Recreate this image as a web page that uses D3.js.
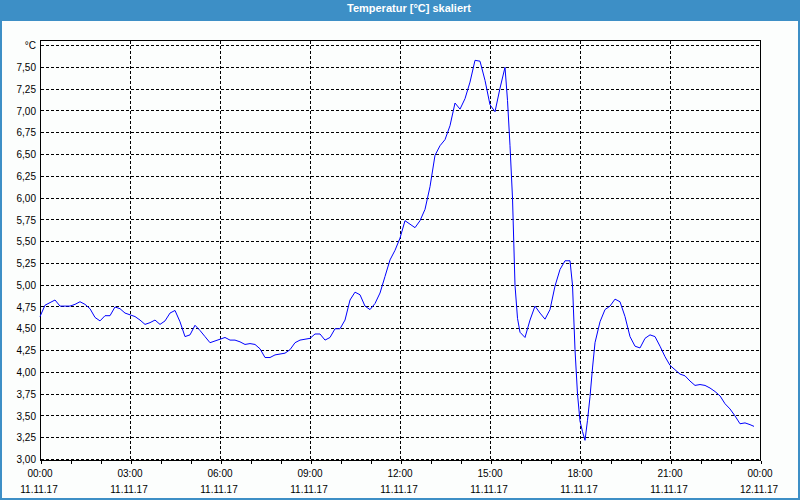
<!DOCTYPE html>
<html><head><meta charset="utf-8">
<script src="https://cdn.jsdelivr.net/npm/d3@7"></script>
<style>html,body{margin:0;padding:0;background:#fcfefd;} svg{display:block;}</style>
</head><body><svg id="c" width="800" height="500"></svg>
<script>
// minutes since 11.11.17 00:00
const minutes = [0,10,20,30,40,50,60,70,80,90,100,110,120,130,140,150,160,170,180,190,200,210,220,230,240,250,260,270,280,290,300,310,320,330,340,350,360,370,380,390,400,410,420,430,440,450,460,470,480,490,500,510,520,530,540,550,560,570,580,590,600,610,620,630,640,650,660,670,680,690,700,710,720,730,740,750,760,770,780,790,800,810,820,830,840,850,860,870,880,890,900,910,920,930,935,940,945,950,955,960,970,980,990,1000,1010,1020,1030,1040,1050,1060,1065,1070,1075,1080,1085,1090,1095,1100,1105,1110,1120,1130,1140,1150,1160,1170,1180,1190,1200,1210,1220,1230,1240,1250,1260,1270,1280,1290,1300,1310,1320,1330,1340,1350,1360,1370,1380,1390,1400,1410,1420,1428];
const temps = [4.64,4.77,4.80,4.83,4.76,4.76,4.76,4.78,4.81,4.78,4.73,4.63,4.59,4.65,4.65,4.75,4.73,4.68,4.66,4.64,4.60,4.55,4.57,4.60,4.55,4.59,4.68,4.71,4.58,4.41,4.43,4.54,4.48,4.41,4.34,4.36,4.38,4.40,4.37,4.37,4.35,4.32,4.33,4.32,4.27,4.17,4.17,4.20,4.21,4.22,4.26,4.34,4.37,4.38,4.39,4.44,4.44,4.37,4.40,4.50,4.50,4.60,4.83,4.92,4.89,4.76,4.72,4.79,4.91,5.10,5.29,5.40,5.54,5.74,5.70,5.66,5.74,5.87,6.13,6.49,6.60,6.67,6.83,7.09,7.02,7.14,7.33,7.58,7.57,7.35,7.07,6.99,7.26,7.50,7.12,6.60,6.00,5.00,4.62,4.46,4.40,4.60,4.76,4.68,4.61,4.72,4.99,5.18,5.28,5.28,5.00,4.26,3.75,3.44,3.32,3.22,3.45,3.72,4.05,4.34,4.58,4.72,4.76,4.84,4.81,4.64,4.41,4.30,4.28,4.39,4.43,4.41,4.30,4.18,4.08,4.03,3.98,3.96,3.90,3.85,3.86,3.85,3.82,3.78,3.73,3.64,3.58,3.50,3.41,3.42,3.40,3.38];

const yTicks = [3.00,3.25,3.50,3.75,4.00,4.25,4.50,4.75,5.00,5.25,5.50,5.75,6.00,6.25,6.50,6.75,7.00,7.25,7.50,7.75];
const yTickLabels = ["3,00","3,25","3,50","3,75","4,00","4,25","4,50","4,75","5,00","5,25","5,50","5,75","6,00","6,25","6,50","6,75","7,00","7,25","7,50","°C"];
const xTickHours = [0,3,6,9,12,15,18,21,24];
const xTickTimes = ["00:00","03:00","06:00","09:00","12:00","15:00","18:00","21:00","00:00"];
const xTickDates = ["11.11.17","11.11.17","11.11.17","11.11.17","11.11.17","11.11.17","11.11.17","11.11.17","12.11.17"];
const title = "Temperatur [°C] skaliert";

const W = 800, H = 500;
const blue = "#3d8fc6";
const FONT = "'Liberation Sans', Arial, sans-serif";
const svg = d3.select("#c");

svg.append("rect").attr("width", W).attr("height", H).attr("fill", "#fcfefd");
// window border + title bar
svg.append("rect").attr("x", 1).attr("y", 1).attr("width", W - 2).attr("height", H - 2)
  .attr("fill", "none").attr("stroke", blue).attr("stroke-width", 2);
svg.append("rect").attr("x", 0).attr("y", 0).attr("width", W).attr("height", 21).attr("fill", blue);
svg.append("text").attr("x", 409).attr("y", 12).attr("text-anchor", "middle")
  .attr("font-family", FONT).attr("font-size", 11).attr("font-weight", "bold")
  .attr("fill", "#ffffff").text(title);

const t0 = new Date(2017, 10, 11, 0, 0);
const x = d3.scaleTime().domain([t0, d3.timeHour.offset(t0, 24)]).range([40, 760]);
const y = d3.scaleLinear().domain([3, 7.75]).range([459.5, 45.5]);
const px = v => Math.round(v) + 0.5;

const g = svg.append("g");
// horizontal gridlines
g.selectAll("line.hg").data(yTicks).enter().append("line")
  .attr("x1", 41).attr("x2", 760)
  .attr("y1", d => px(y(d) - 0.5)).attr("y2", d => px(y(d) - 0.5))
  .attr("stroke", "#000").attr("stroke-width", 1).attr("stroke-dasharray", "3,2")
  .attr("shape-rendering", "crispEdges");
// vertical gridlines
g.selectAll("line.vg").data(xTickHours.slice(1, -1)).enter().append("line")
  .attr("x1", d => px(x(d3.timeHour.offset(t0, d)))).attr("x2", d => px(x(d3.timeHour.offset(t0, d))))
  .attr("y1", 41).attr("y2", 460)
  .attr("stroke", "#000").attr("stroke-width", 1).attr("stroke-dasharray", "3,2")
  .attr("shape-rendering", "crispEdges");

// frame
svg.append("rect").attr("x", 40.5).attr("y", 40.5).attr("width", 720).attr("height", 420)
  .attr("fill", "none").attr("stroke", "#000").attr("stroke-width", 1).attr("shape-rendering", "crispEdges");

// hourly ticks on bottom axis
const xAxis = d3.axisBottom(x).ticks(d3.timeHour.every(1)).tickSize(3).tickFormat("");
const ax = svg.append("g").attr("transform", "translate(0.5,460.5)").call(xAxis);
ax.select(".domain").remove();
ax.selectAll("line").attr("stroke", "#000").attr("shape-rendering", "crispEdges");

// x labels
const xl = svg.append("g").attr("font-family", FONT).attr("font-size", 10).attr("fill", "#000");
xl.selectAll("text.t").data(xTickHours).enter().append("text")
  .attr("x", d => x(d3.timeHour.offset(t0, d))).attr("y", 477).attr("text-anchor", "middle")
  .text((d, i) => xTickTimes[i]);
xl.selectAll("text.d").data(xTickHours).enter().append("text")
  .attr("x", d => x(d3.timeHour.offset(t0, d)) - 1).attr("y", 493).attr("text-anchor", "middle")
  .text((d, i) => xTickDates[i]);

// y labels
const yAxis = d3.axisLeft(y).tickValues(yTicks).tickSize(0).tickPadding(4)
  .tickFormat((d, i) => yTickLabels[i]);
const ay = svg.append("g").attr("transform", "translate(40,0)").call(yAxis);
ay.select(".domain").remove();
ay.selectAll("text").attr("font-family", FONT).attr("font-size", 10).attr("fill", "#000");

// data line
const data = minutes.map((m, i) => ({t: d3.timeMinute.offset(t0, m), v: temps[i]}));
const line = d3.line().x(d => x(d.t)).y(d => y(d.v));
svg.append("path").datum(data).attr("d", line)
  .attr("fill", "none").attr("stroke", "#0000ff").attr("stroke-width", 1);
</script></body></html>
